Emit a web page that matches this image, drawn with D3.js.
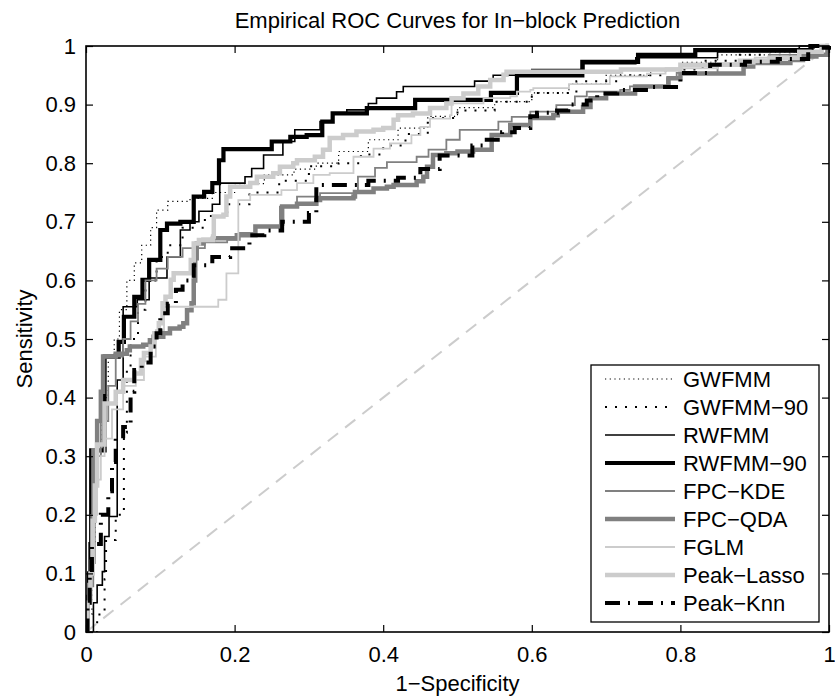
<!DOCTYPE html>
<html>
<head>
<meta charset="utf-8">
<script src="https://d3js.org/d3.v7.min.js"></script>
<style>
  html, body { margin: 0; padding: 0; background: #fff; }
  svg { display: block; }
  text { font-family: "Liberation Sans", Arial, Helvetica, sans-serif; fill: #000; }
</style>
</head>
<body>
<script>
// ---------------- data (fpr, tpr step points) ----------------
const seriesNames = ["GWFMM","GWFMM\u221290","RWFMM","RWFMM\u221290","FPC\u2212KDE","FPC\u2212QDA","FGLM","Peak\u2212Lasso","Peak\u2212Knn"];

const gwfmm = [[0.003,0.03],[0.008,0.15],[0.012,0.3],[0.02,0.4],[0.03,0.47],[0.038,0.5],[0.045,0.55],[0.055,0.6],[0.065,0.63],[0.075,0.66],[0.087,0.69],[0.095,0.72],[0.11,0.735],[0.14,0.74],[0.17,0.75],[0.2,0.765],[0.24,0.78],[0.28,0.79],[0.31,0.8],[0.34,0.82],[0.38,0.84],[0.42,0.86],[0.46,0.88],[0.5,0.895],[0.55,0.905],[0.6,0.92],[0.65,0.935],[0.7,0.95],[0.76,0.96],[0.8,0.972],[0.85,0.985],[0.92,0.99],[0.98,1.0],[1,1]];

const gwfmm90 = [[0.015,0.03],[0.025,0.09],[0.027,0.157],[0.04,0.2],[0.051,0.34],[0.055,0.45],[0.06,0.5],[0.07,0.55],[0.08,0.6],[0.095,0.64],[0.11,0.66],[0.13,0.69],[0.16,0.71],[0.19,0.73],[0.22,0.75],[0.26,0.77],[0.3,0.795],[0.34,0.8],[0.37,0.815],[0.4,0.83],[0.43,0.85],[0.46,0.877],[0.5,0.89],[0.55,0.905],[0.6,0.92],[0.66,0.94],[0.72,0.95],[0.78,0.96],[0.83,0.975],[0.88,0.985],[0.95,0.99],[1,1]];

const rwfmm = [[0.01,0.05],[0.015,0.08],[0.022,0.103],[0.025,0.163],[0.031,0.197],[0.042,0.22],[0.042,0.43],[0.05,0.555],[0.069,0.567],[0.085,0.604],[0.109,0.64],[0.127,0.686],[0.14,0.7],[0.152,0.718],[0.17,0.73],[0.18,0.766],[0.214,0.777],[0.223,0.791],[0.239,0.814],[0.265,0.837],[0.281,0.857],[0.315,0.871],[0.331,0.885],[0.351,0.891],[0.38,0.902],[0.391,0.911],[0.418,0.922],[0.427,0.931],[0.523,0.94],[0.548,0.95],[0.6,0.96],[0.67,0.97],[0.74,0.98],[0.85,0.99],[0.96,1.0],[1,1]];

const rwfmm90 = [[0.002,0.06],[0.004,0.1],[0.006,0.15],[0.007,0.31],[0.025,0.47],[0.044,0.495],[0.051,0.538],[0.065,0.572],[0.076,0.601],[0.085,0.635],[0.1,0.686],[0.109,0.697],[0.127,0.7],[0.145,0.743],[0.159,0.751],[0.17,0.766],[0.179,0.805],[0.185,0.824],[0.25,0.837],[0.275,0.845],[0.297,0.848],[0.318,0.871],[0.332,0.885],[0.378,0.894],[0.443,0.908],[0.545,0.92],[0.58,0.95],[0.668,0.973],[0.743,0.985],[0.82,0.993],[0.975,1.0],[1,1]];

const fpcKde = [[0.004,0.05],[0.007,0.2],[0.012,0.3],[0.02,0.36],[0.03,0.42],[0.04,0.47],[0.05,0.5],[0.06,0.53],[0.07,0.56],[0.08,0.6],[0.095,0.62],[0.11,0.64],[0.13,0.655],[0.16,0.665],[0.19,0.669],[0.207,0.681],[0.228,0.692],[0.261,0.726],[0.284,0.743],[0.315,0.749],[0.362,0.751],[0.366,0.777],[0.389,0.792],[0.405,0.802],[0.445,0.811],[0.461,0.823],[0.485,0.84],[0.503,0.857],[0.555,0.871],[0.573,0.879],[0.598,0.888],[0.633,0.899],[0.658,0.914],[0.674,0.922],[0.719,0.925],[0.732,0.931],[0.782,0.945],[0.795,0.954],[0.85,0.97],[0.92,0.985],[0.99,1],[1,1]];

const fpcQda = [[0.002,0.05],[0.004,0.08],[0.008,0.12],[0.01,0.31],[0.015,0.36],[0.02,0.41],[0.023,0.47],[0.04,0.475],[0.055,0.481],[0.059,0.487],[0.077,0.49],[0.086,0.498],[0.091,0.504],[0.104,0.51],[0.113,0.518],[0.126,0.521],[0.131,0.527],[0.136,0.549],[0.142,0.561],[0.145,0.6],[0.147,0.638],[0.149,0.663],[0.158,0.669],[0.171,0.672],[0.203,0.677],[0.228,0.692],[0.263,0.697],[0.264,0.726],[0.284,0.731],[0.31,0.737],[0.315,0.74],[0.36,0.743],[0.362,0.751],[0.387,0.757],[0.405,0.76],[0.414,0.763],[0.445,0.769],[0.454,0.777],[0.459,0.794],[0.467,0.814],[0.485,0.817],[0.5,0.82],[0.521,0.823],[0.546,0.848],[0.571,0.865],[0.598,0.877],[0.629,0.882],[0.635,0.888],[0.669,0.896],[0.679,0.911],[0.7,0.919],[0.739,0.931],[0.784,0.945],[0.8,0.953],[0.885,0.965],[0.898,0.971],[0.948,0.976],[0.965,0.982],[0.983,0.985],[0.998,1],[1,1]];

const fglm = [[0.003,0.05],[0.005,0.1],[0.01,0.2],[0.015,0.26],[0.02,0.3],[0.025,0.33],[0.035,0.38],[0.05,0.42],[0.067,0.43],[0.078,0.47],[0.094,0.515],[0.105,0.555],[0.178,0.567],[0.189,0.612],[0.205,0.737],[0.221,0.746],[0.263,0.754],[0.284,0.766],[0.306,0.78],[0.328,0.783],[0.36,0.811],[0.387,0.825],[0.409,0.834],[0.438,0.848],[0.45,0.862],[0.463,0.876],[0.49,0.882],[0.492,0.902],[0.535,0.911],[0.571,0.914],[0.58,0.922],[0.598,0.925],[0.602,0.928],[0.65,0.935],[0.705,0.948],[0.755,0.953],[0.78,0.962],[0.85,0.97],[0.9,0.98],[0.96,0.99],[0.99,1],[1,1]];

const peakLasso = [[0.002,0.05],[0.006,0.1],[0.009,0.19],[0.012,0.25],[0.015,0.32],[0.025,0.39],[0.04,0.41],[0.05,0.43],[0.065,0.441],[0.074,0.464],[0.078,0.476],[0.087,0.487],[0.092,0.51],[0.098,0.527],[0.103,0.561],[0.107,0.572],[0.114,0.601],[0.118,0.612],[0.141,0.635],[0.145,0.663],[0.152,0.669],[0.171,0.675],[0.172,0.709],[0.185,0.712],[0.189,0.743],[0.194,0.76],[0.221,0.766],[0.23,0.777],[0.252,0.783],[0.261,0.794],[0.279,0.8],[0.284,0.805],[0.308,0.811],[0.319,0.823],[0.328,0.843],[0.346,0.848],[0.364,0.854],[0.387,0.857],[0.4,0.86],[0.414,0.874],[0.42,0.882],[0.44,0.885],[0.463,0.894],[0.485,0.902],[0.492,0.911],[0.508,0.919],[0.528,0.931],[0.544,0.942],[0.562,0.951],[0.566,0.956],[0.72,0.96],[0.8,0.968],[0.88,0.975],[0.92,0.98],[0.96,0.99],[0.99,1],[1,1]];

const peakKnn = [[0.002,0.05],[0.005,0.1],[0.008,0.15],[0.02,0.2],[0.03,0.24],[0.035,0.29],[0.04,0.33],[0.05,0.35],[0.06,0.41],[0.065,0.447],[0.075,0.46],[0.087,0.487],[0.095,0.51],[0.1,0.544],[0.11,0.56],[0.121,0.584],[0.13,0.6],[0.145,0.626],[0.17,0.64],[0.194,0.655],[0.22,0.677],[0.24,0.685],[0.264,0.7],[0.3,0.715],[0.31,0.763],[0.38,0.77],[0.42,0.775],[0.45,0.79],[0.476,0.813],[0.52,0.83],[0.534,0.84],[0.56,0.853],[0.577,0.86],[0.598,0.88],[0.607,0.886],[0.634,0.89],[0.649,0.9],[0.674,0.907],[0.688,0.919],[0.715,0.925],[0.76,0.93],[0.8,0.954],[0.84,0.968],[0.887,0.973],[0.931,0.978],[0.972,0.997],[1,1]];

const xTicks = [0, 0.2, 0.4, 0.6, 0.8, 1];
const xTickLabels = ["0", "0.2", "0.4", "0.6", "0.8", "1"];
const yTicks = [0, 0.1, 0.2, 0.3, 0.4, 0.5, 0.6, 0.7, 0.8, 0.9, 1];
const yTickLabels = ["0", "0.1", "0.2", "0.3", "0.4", "0.5", "0.6", "0.7", "0.8", "0.9", "1"];

const titleText = "Empirical ROC Curves for In\u2212block Prediction";
const xLabel = "1\u2212Specificity";
const yLabel = "Sensitivity";

// ---------------- styles ----------------
const seriesData = [gwfmm, gwfmm90, rwfmm, rwfmm90, fpcKde, fpcQda, fglm, peakLasso, peakKnn];
const styles = [
  {color: "#000", width: 1.2, dash: "1.2,3.5"},
  {color: "#000", width: 2, dash: "2,8"},
  {color: "#000", width: 1.6, dash: null},
  {color: "#000", width: 4.2, dash: null},
  {color: "#808080", width: 1.8, dash: null},
  {color: "#808080", width: 4.5, dash: null},
  {color: "#cccccc", width: 1.8, dash: null},
  {color: "#cccccc", width: 4.5, dash: null},
  {color: "#000", width: 4, dash: "15,8,2,8"}
];

// ---------------- layout ----------------
const W = 835, H = 699;
const x = d3.scaleLinear().domain([0, 1]).range([86, 829]);
const y = d3.scaleLinear().domain([0, 1]).range([632, 46]);
const FS = 22;

const svg = d3.select("body").append("svg").attr("width", W).attr("height", H);
svg.append("rect").attr("width", W).attr("height", H).attr("fill", "#fff");

svg.append("defs").append("clipPath").attr("id", "plotclip")
  .append("rect").attr("x", x(0)).attr("y", y(1) - 3).attr("width", x(1) - x(0) + 3).attr("height", y(0) - y(1) + 3);

// diagonal reference
svg.append("line")
  .attr("x1", x(0)).attr("y1", y(0)).attr("x2", x(1)).attr("y2", y(1))
  .attr("stroke", "#cccccc").attr("stroke-width", 2).attr("stroke-dasharray", "13,9");

const line = d3.line().x(d => x(d[0])).y(d => y(d[1])).curve(d3.curveStepAfter);

const gLines = svg.append("g").attr("clip-path", "url(#plotclip)");
seriesData.forEach((s, i) => {
  const st = styles[i];
  gLines.append("path")
    .attr("d", line([[0, 0]].concat(s)))
    .attr("fill", "none")
    .attr("stroke", st.color)
    .attr("stroke-width", st.width)
    .attr("stroke-dasharray", st.dash)
    .attr("stroke-linejoin", "miter")
    .attr("stroke-linecap", "butt");
});

// axes (ticks inside, box)
const fmtX = d => xTickLabels[xTicks.indexOf(d)];
const fmtY = d => yTickLabels[yTicks.indexOf(d)];
const axB = svg.append("g").attr("transform", `translate(0,${y(0)})`)
  .call(d3.axisBottom(x).tickValues(xTicks).tickFormat(fmtX).tickSizeInner(-7).tickSizeOuter(0).tickPadding(14));
const axL = svg.append("g").attr("transform", `translate(${x(0)},0)`)
  .call(d3.axisLeft(y).tickValues(yTicks).tickFormat(fmtY).tickSizeInner(-7).tickSizeOuter(0).tickPadding(10));
const axT = svg.append("g").attr("transform", `translate(0,${y(1)})`)
  .call(d3.axisTop(x).tickValues(xTicks).tickFormat("").tickSizeInner(-7).tickSizeOuter(0));
const axR = svg.append("g").attr("transform", `translate(${x(1)},0)`)
  .call(d3.axisRight(y).tickValues(yTicks).tickFormat("").tickSizeInner(-7).tickSizeOuter(0));
[axB, axL, axT, axR].forEach(g => {
  g.selectAll(".domain").remove();
  g.selectAll(".tick line").attr("stroke", "#000").attr("stroke-width", 1.2);
  g.selectAll(".tick text").attr("font-size", FS).attr("font-family", "Liberation Sans, Arial, sans-serif").attr("fill", "#000");
});
svg.append("rect").attr("x", x(0)).attr("y", y(1)).attr("width", x(1) - x(0)).attr("height", y(0) - y(1))
  .attr("fill", "none").attr("stroke", "#000").attr("stroke-width", 1.6);

// title and labels
svg.append("text").attr("x", (x(0) + x(1)) / 2).attr("y", 28).attr("text-anchor", "middle")
  .attr("font-size", FS).text(titleText);
svg.append("text").attr("x", (x(0) + x(1)) / 2).attr("y", 691).attr("text-anchor", "middle")
  .attr("font-size", FS).text(xLabel);
svg.append("text").attr("transform", `translate(32,${(y(0) + y(1)) / 2}) rotate(-90)`).attr("text-anchor", "middle")
  .attr("font-size", FS).text(yLabel);

// legend
const lgX0 = 591, lgX1 = 819, lgRowH = 28, lgBottom = 622;
const lgFirstRow = lgBottom - 19 - lgRowH * (seriesNames.length - 1);
const lgTop = lgFirstRow - 14;
const lg = svg.append("g");
lg.append("rect").attr("x", lgX0).attr("y", lgTop).attr("width", lgX1 - lgX0).attr("height", lgBottom - lgTop)
  .attr("fill", "#fff").attr("stroke", "#000").attr("stroke-width", 1.3);
seriesNames.forEach((name, i) => {
  const st = styles[i];
  const yy = lgFirstRow + i * lgRowH;
  lg.append("line").attr("x1", 605).attr("x2", 675).attr("y1", yy).attr("y2", yy)
    .attr("stroke", st.color).attr("stroke-width", st.width).attr("stroke-dasharray", st.dash);
  lg.append("text").attr("x", 683).attr("y", yy).attr("dy", "0.36em").attr("font-size", FS).text(name);
});
</script>
</body>
</html>
